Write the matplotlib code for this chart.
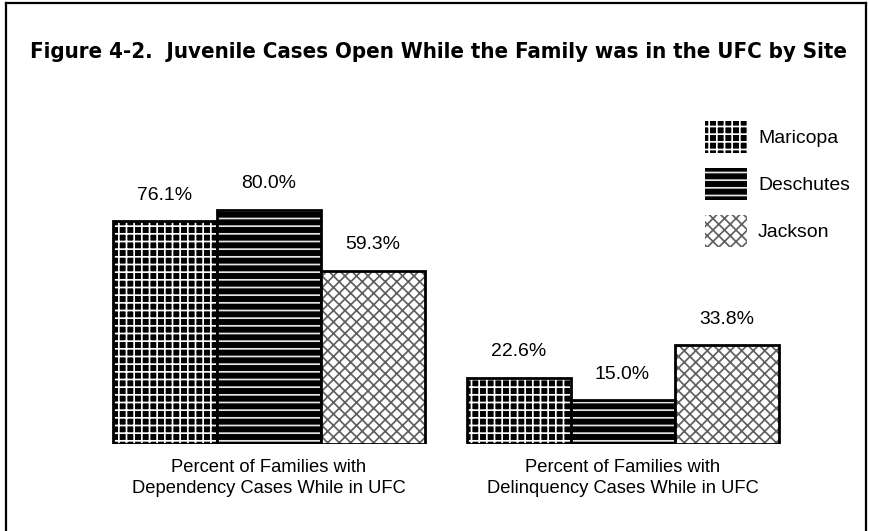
import numpy as np
import matplotlib.pyplot as plt
from matplotlib.patches import Patch
from matplotlib.lines import Line2D

# data
categories = ['Percent of Families with\nDependency Cases While in UFC',
              'Percent of Families with\nDelinquency Cases While in UFC']
sites = ['Maricopa', 'Deschutes', 'Jackson']
maricopa = [76.1, 22.6]
deschutes = [80.0, 15.0]
jackson = [59.3, 33.8]

W, H = 869, 531
DPI = 138  # hatch spacing scales with dpi
S = 100 / DPI  # sizes below are tuned as if at 100 dpi

plt.rcParams['font.family'] = ['Liberation Sans', 'DejaVu Sans']
plt.rcParams['hatch.linewidth'] = 0.9
fig = plt.figure(figsize=(W / DPI, H / DPI), dpi=DPI)


def px(x0, y0, x1, y1):
    # pixel box (top-left origin) -> figure fraction rect
    return [x0 / W, 1 - y1 / H, (x1 - x0) / W, (y1 - y0) / H]


# frame around the figure (top, left, right)
for xs, ys in [([6, 6], [531, 3]), ([6, 866], [3, 3]), ([866, 866], [3, 531])]:
    fig.add_artist(Line2D([v / W for v in xs], [1 - v / H for v in ys],
                          color='black', lw=1.6 * S))

title = fig.text(30 / W, 1 - 52 / H,
                 'Figure 4-2.  Juvenile Cases Open While the Family was in the UFC by Site',
                 fontsize=15 * S, fontweight='heavy', va='center', ha='left',
                 family='DejaVu Sans', fontstretch='condensed')
# fit title width to the box (~818 px)
fig.canvas.draw()
tw = title.get_window_extent().width
title.set_fontsize(title.get_fontsize() * 818 / tw)

# axes: baseline at y=444 px, 100% -> 292.5 px
ax = fig.add_axes(px(100, 444 - 292.5, 800, 444))
ax.set_ylim(0, 100)
ax.set_xlim((100 - 268.5) / 354, (800 - 268.5) / 354)
for s in ax.spines.values():
    s.set_visible(False)
ax.set_yticks([])

x = np.arange(len(categories))
w = 104 / 354
series = [maricopa, deschutes, jackson]
styles = [
    dict(facecolor='black', edgecolor='white', hatch='+++'),
    dict(facecolor='black', edgecolor='#e6e6e6', hatch='---'),
    dict(facecolor='white', edgecolor='#606060', hatch='xxxx'),
]
for i, (vals, st) in enumerate(zip(series, styles)):
    pos = x + (i - 1) * w
    ax.bar(pos, vals, w, linewidth=0, **st)
    ax.bar(pos, vals, w, fill=False, edgecolor='black', linewidth=2.0 * S)
    for p, v in zip(pos, vals):
        ax.text(p, v + 6.0, f'{v:.1f}%', ha='center', va='bottom', fontsize=14 * S)

ax.set_xticks(x)
ax.set_xticklabels(categories, fontsize=13.2 * S, linespacing=1.25)
ax.tick_params(axis='x', length=0, pad=11 * S)

# legend
fs = 14 * S
fpx = 14 * 100 / 72  # font size in pixels
hh = (32 / fpx - 0.245) / 0.65  # legend shrinks the patch by a descent term
handles = [Patch(linewidth=0, **st) for st in styles]
leg = fig.legend(handles, sites, loc='upper left',
                 bbox_to_anchor=((705 - 0.9 * fpx) / W, 1 - (121 - 0.9 * fpx) / H),
                 frameon=False, fontsize=fs, handlelength=42 / fpx,
                 handleheight=hh, labelspacing=(47 - 32) / fpx,
                 handletextpad=11 / fpx)

fig.savefig('out.png', dpi=DPI)
